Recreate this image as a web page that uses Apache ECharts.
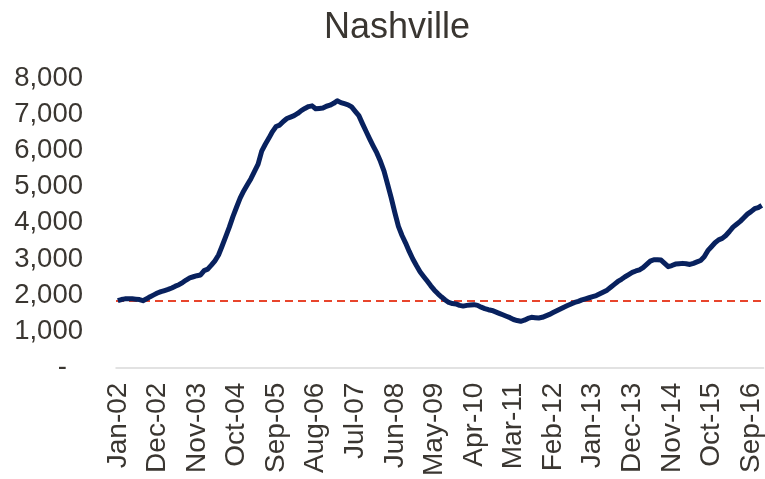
<!DOCTYPE html>
<html>
<head>
<meta charset="utf-8">
<script src="https://cdn.jsdelivr.net/npm/echarts@6/dist/echarts.min.js"></script>
<style>
html,body{margin:0;padding:0;background:#fff;}
#chart{width:765px;height:479px;}
</style>
</head>
<body>
<div id="chart"></div>
<script>
const titleText = 'Nashville';
const monthNames = ['Jan','Feb','Mar','Apr','May','Jun','Jul','Aug','Sep','Oct','Nov','Dec'];
const startYear = 2002;
const endYear = 2016;
const baselineValue = 1850;

const values2002 = [1850,1880,1900,1905,1900,1890,1880,1850,1900,1960,2010,2060];
const values2003 = [2100,2130,2160,2200,2250,2290,2350,2420,2480,2510,2540,2560];
const values2004 = [2680,2720,2830,2950,3110,3360,3620,3880,4170,4430,4680,4880];
const values2005 = [5050,5220,5420,5620,5980,6170,6340,6520,6660,6700,6800,6880];
const values2006 = [6920,6960,7020,7100,7160,7210,7230,7150,7160,7170,7220,7250];
const values2007 = [7300,7370,7320,7290,7260,7200,7080,6960,6740,6530,6320,6120];
const values2008 = [5930,5700,5430,5060,4690,4280,3900,3650,3440,3210,3000,2820];
const values2009 = [2650,2520,2390,2260,2140,2040,1950,1870,1800,1770,1760,1720];
const values2010 = [1700,1720,1730,1740,1720,1670,1630,1600,1580,1540,1500,1460];
const values2011 = [1420,1380,1330,1300,1280,1310,1360,1390,1380,1370,1390,1430];
const values2012 = [1470,1520,1570,1620,1670,1715,1760,1800,1830,1870,1900,1930];
const values2013 = [1960,1990,2040,2090,2140,2220,2300,2380,2440,2510,2570,2630];
const values2014 = [2670,2700,2760,2850,2940,2980,2980,2970,2880,2790,2820,2860];
const values2015 = [2870,2880,2870,2850,2880,2920,2960,3060,3230,3340,3450,3530];
const values2016 = [3570,3650,3760,3880,3960,4040,4140,4240,4310,4390,4420,4480];

const yearlyValues = [values2002,values2003,values2004,values2005,values2006,values2007,values2008,
  values2009,values2010,values2011,values2012,values2013,values2014,values2015,values2016];

const categories = [];
for (let y = startYear; y <= endYear; y++) {
  for (let m = 0; m < 12; m++) {
    categories.push(monthNames[m] + '-' + String(y % 100).padStart(2, '0'));
  }
}
const seriesValues = [].concat(...yearlyValues);

const textColor = '#3a3631';
const fontFam = 'Liberation Sans, Arial, sans-serif';
const chart = echarts.init(document.getElementById('chart'), null, {renderer: 'canvas'});
chart.setOption({
  animation: false,
  backgroundColor: '#ffffff',
  title: {
    text: titleText,
    left: 392,
    textAlign: 'center',
    top: 5,
    textStyle: {color: textColor, fontFamily: fontFam, fontSize: 36, fontWeight: 'normal'}
  },
  grid: {left: 116, right: 0, top: 78, bottom: 109, containLabel: false},
  xAxis: {
    type: 'category',
    data: categories,
    boundaryGap: true,
    axisLine: {show: true, lineStyle: {color: '#d9d9d9', width: 1.5}},
    axisTick: {show: false},
    axisLabel: {
      interval: 10,
      rotate: 90,
      margin: 15,
      color: textColor,
      fontFamily: fontFam,
      fontSize: 28
    },
    splitLine: {show: false}
  },
  yAxis: {
    type: 'value',
    min: 0,
    max: 8000,
    interval: 1000,
    axisLine: {show: false},
    axisTick: {show: false},
    splitLine: {show: false},
    axisLabel: {
      margin: 33,
      color: textColor,
      fontFamily: fontFam,
      fontSize: 27.5,
      formatter: function (v) {
        if (v === 0) return '{z|-}';
        return v.toLocaleString('en-US');
      },
      rich: {
        z: {color: textColor, fontFamily: fontFam, fontSize: 27.5, padding: [0, 16, 0, 0]}
      }
    }
  },
  series: [{
    type: 'line',
    data: seriesValues,
    symbol: 'none',
    smooth: false,
    lineStyle: {color: '#08215e', width: 5, join: 'round'},
    z: 3,
    markLine: {
      silent: true,
      symbol: ['none', 'none'],
      label: {show: false},
      lineStyle: {color: '#e8452c', type: [8, 5], width: 2},
      data: [{yAxis: baselineValue}],
      z: 2
    }
  }]
});
</script>
</body>
</html>
